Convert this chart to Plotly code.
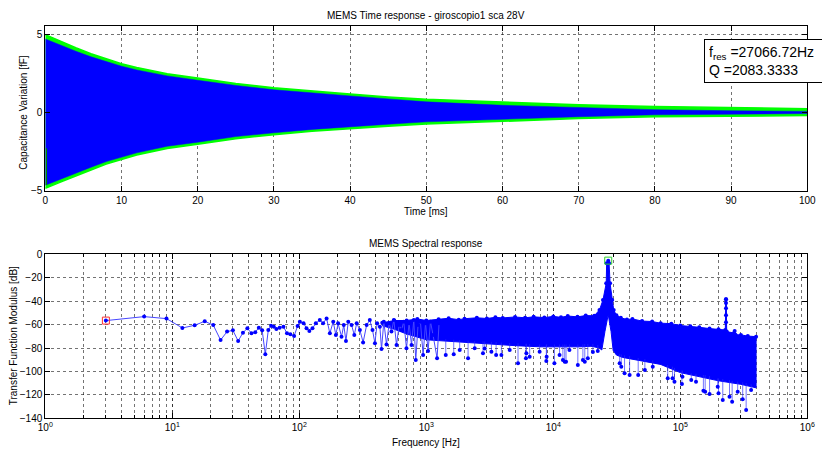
import plotly.graph_objects as go

# ---------------- Top: time response envelope ----------------
t_env = [0, 2, 4, 6, 8, 10, 12, 16, 20, 25, 30, 35, 40, 45, 50, 60, 70, 80, 90, 100]
green_up = [4.98, 4.55, 4.14, 3.76, 3.42, 3.12, 2.88, 2.48, 2.2, 1.86, 1.58, 1.36, 1.18, 0.99, 0.84, 0.67, 0.49, 0.38, 0.30, 0.24]
green_lo = [-4.85, -4.45, -4.05, -3.68, -3.3, -3.0, -2.72, -2.3, -2.03, -1.68, -1.42, -1.2, -1.02, -0.88, -0.74, -0.57, -0.39, -0.28, -0.22, -0.20]
blue_up = [4.7, 4.3, 3.92, 3.56, 3.24, 2.96, 2.72, 2.34, 2.06, 1.73, 1.45, 1.24, 1.06, 0.87, 0.68, 0.46, 0.30, 0.18, 0.11, 0.07]
blue_lo = [-4.65, -4.25, -3.87, -3.5, -3.14, -2.84, -2.58, -2.16, -1.9, -1.54, -1.3, -1.08, -0.9, -0.75, -0.6, -0.43, -0.27, -0.15, -0.10, -0.07]
start_t = [0.15, 0.15]
start_v = [-2.28, -4.63]

# ---------------- Bottom: spectrum ----------------
# sparse low/mid-frequency samples (Hz, dB)
lf_f = [3, 6, 9, 12, 15, 18, 21, 24, 27, 30, 33, 36, 39, 42, 45, 48, 51, 54, 57, 60, 63, 66, 70, 75,
        80, 85, 91, 97, 101, 108, 114, 120, 127, 135,
        145, 154, 164, 174, 185, 194, 202, 215, 224, 233, 243, 258, 271, 283, 300, 318, 339, 359,
        377, 394, 410, 431, 444, 463, 486, 510, 532, 555, 583, 611, 638, 665, 698, 732, 765, 797,
        826, 861, 899, 944, 986, 1033, 1079, 1130, 1216, 1260]
lf_db = [-56.6, -53.2, -54.9, -62.9, -60.6, -57.2, -60.4, -73.2, -66.0, -64.9, -74.0, -66.9, -63.2,
         -67.4, -66.6, -62.6, -64.9, -85.4, -64.6, -61.0, -61.8, -63.8, -62.6, -61.8,
         -67.4, -68.3, -69.7, -61.2, -57.5, -58.9, -63.2, -65.5, -63.2, -58.9,
         -56.1, -58.9, -54.7, -67.5, -57.5, -68.9, -58.9, -70.3, -60.4, -74.0, -57.5, -60.4, -68.9,
         -58.9, -64.6, -75.2, -60.4, -56.1, -64.6, -76.0, -58.9, -61.8, -80.8, -57.5, -76.9, -58.9,
         -66.0, -56.1, -77.4, -60.4, -64.6, -57.5, -80.3, -58.9, -77.4, -56.1,
         -90.2, -60.4, -57.5, -86.0, -58.9, -82.5, -57.5, -68.9, -88.8, -58.9]

# dense band: upper edge and lower edge of the solid region
band_up_f = [450, 560, 700, 850, 1000, 1250, 1500, 1800, 2000, 2500, 3000, 3500, 4000, 5000, 6000,
             7000, 8500, 10000, 11500, 13000, 15500, 18000, 21000, 23100,
             24600, 26100, 26300, 27070, 27500, 28000, 29100, 29900, 31400, 34000, 38000, 42000,
             50000, 60000, 70000, 85000, 100000, 120000, 141000, 170000, 200000, 226000, 229000,
             232000, 265000, 268000, 272000, 300000, 340000, 395000]
band_up_db = [-58.5, -56.5, -56.5, -55.2, -56.5, -55.5, -54.6, -55.8, -55, -54.2, -54.8, -53.8,
              -54.3, -53.5, -54.2, -53.4, -54, -53, -53.8, -52.7, -53.4, -52.3, -52.5, -47.5,
              -39, -24.8, -7.7, -5.4, -7.7, -24.8, -39, -47.5, -52, -54.2, -55.6, -55.2,
              -57, -57.4, -58.8, -59.2, -60.8, -61.4, -62.3, -63.4, -64, -64.6, -38.4,
              -66, -67.2, -65.5, -68.6, -68.8, -69.8, -70.3]
band_lo_f = [450, 560, 700, 1000, 1500, 2000, 3000, 5000, 8000, 12000, 16000, 20000, 23000, 24100,
             25500, 27070, 28500, 29600, 31400, 35000, 50000, 70000, 100000, 150000, 200000,
             300000, 395000]
band_lo_db = [-61, -64, -68, -73, -74.5, -75.5, -76.5, -78, -79, -79, -79, -78.5, -80, -81.7,
              -66, -51.5, -66, -82, -86, -88, -91, -94, -101, -105, -108, -111, -114]

# deep downward spikes (Hz, dB at tip, dB where it leaves the solid band)
dip_f = [1423, 1644, 1832, 2133, 2405, 2794, 2884, 3256, 3546, 3902, 4536, 5275, 6090, 6138, 6518,
         7803, 8810, 8860, 10200, 11200, 11900, 12300, 12600, 13400, 15600, 17100, 17700, 18700,
         20500, 22400,
         33300, 34300, 36400, 39900, 46600, 52600, 60700, 79600, 86900, 90000, 103000, 104000,
         122000, 133000, 152000, 157000, 170000, 197000, 200000, 216000, 244000, 256000, 283000,
         310000, 330000, 361000]
dip_db = [-86, -85.4, -81.7, -88.8, -80.3, -84.5, -80.5, -83.1, -86, -86, -81.7, -93.1, -88.8,
          -84.5, -87.4, -83.1, -91.1, -87.4, -93.1, -86, -90.2, -91.7, -91.7, -81.7, -94.5, -90.2,
          -91.7, -88.8, -83.5, -82.5,
          -93.1, -96, -101.6, -103, -103, -98.8, -96, -105.9, -105.9, -108.8, -110.7, -104.5,
          -107.3, -108.8, -116.4, -117.3, -119.3, -113, -118.7, -124.4, -121.6, -125.8, -117.3,
          -123.8, -132.9, -115.8]
dip_top = [-72.5, -73, -73.3, -73.7, -74, -74.3, -74.4, -74.8, -75, -75.3, -75.7, -76, -76.3,
           -76.4, -76.6, -77, -77, -77, -77, -77, -77, -77, -77, -77, -77, -76.8, -76.6, -76.5,
           -76.5, -77.5,
           -85, -85.5, -86.3, -87, -88.5, -89.5, -90.5, -94.5, -96, -97, -99, -99.5,
           -101.5, -102, -103, -103, -104, -106, -106, -106.5, -107.5, -108, -108.7,
           -109.3, -110, -111]

spike_f = [229000, 229000, 229000, 229000, 229000]
spike_db = [-38.4, -41.5, -46, -52, -58]

peak_f = [27070]
peak_db = [-5.4]
first_f = [3]
first_db = [-56.6]

# ---------------- figure ----------------
fig = go.Figure()

# top
fig.add_trace(go.Scatter(x=t_env + t_env[::-1], y=green_up + green_lo[::-1], fill="toself",
                         fillcolor="#00ff00", line=dict(color="#00ff00", width=1.5),
                         mode="lines", xaxis="x", yaxis="y", hoverinfo="skip"))
fig.add_trace(go.Scatter(x=t_env + t_env[::-1], y=blue_up + blue_lo[::-1], fill="toself",
                         fillcolor="#0000ff", line=dict(color="#0000ff", width=0.5),
                         mode="lines", xaxis="x", yaxis="y", hoverinfo="skip"))
fig.add_trace(go.Scatter(x=start_t, y=start_v, mode="lines",
                         line=dict(color="rgb(0,140,0)", width=1.2), xaxis="x", yaxis="y"))

# bottom
fig.add_trace(go.Scatter(x=band_up_f + band_lo_f[::-1], y=band_up_db + band_lo_db[::-1],
                         fill="toself", fillcolor="#0000ff", line=dict(color="#0000ff", width=1),
                         mode="lines", xaxis="x2", yaxis="y2", hoverinfo="skip"))
dx, dy = [], []
for f, d, tp in zip(dip_f, dip_db, dip_top):
    dx += [f, f, None]
    dy += [tp, d, None]
fig.add_trace(go.Scatter(x=dx, y=dy, mode="lines", line=dict(color="rgba(40,40,255,0.65)", width=1),
                         xaxis="x2", yaxis="y2", hoverinfo="skip"))
fig.add_trace(go.Scatter(x=dip_f, y=dip_db, mode="markers",
                         marker=dict(color="#0000ff", size=4), xaxis="x2", yaxis="y2"))
fig.add_trace(go.Scatter(x=band_up_f, y=band_up_db, mode="markers",
                         marker=dict(color="#0000ff", size=4), xaxis="x2", yaxis="y2"))
fig.add_trace(go.Scatter(x=spike_f, y=spike_db, mode="lines+markers",
                         line=dict(color="#0000ff", width=1.5),
                         marker=dict(color="#0000ff", size=4), xaxis="x2", yaxis="y2"))
fig.add_trace(go.Scatter(x=lf_f, y=lf_db, mode="lines+markers",
                         line=dict(color="rgb(70,70,255)", width=1),
                         marker=dict(color="#0000ff", size=4), xaxis="x2", yaxis="y2"))
fig.add_trace(go.Scatter(x=first_f, y=first_db, mode="markers",
                         marker=dict(symbol="square-open", color="#ff3030", size=7, line=dict(width=1)),
                         xaxis="x2", yaxis="y2"))
fig.add_trace(go.Scatter(x=peak_f, y=peak_db, mode="markers",
                         marker=dict(symbol="square-open", color="#30d030", size=7, line=dict(width=1)),
                         xaxis="x2", yaxis="y2"))

FONT = "Liberation Sans, Arial, sans-serif"
GRIDC = "rgba(0,0,0,0.55)"
grid = dict(showgrid=True, gridcolor=GRIDC, griddash="dot", gridwidth=1,
            zeroline=False, showline=True, linecolor="black", linewidth=1, mirror="ticks",
            ticks="inside", tickcolor="black", tickfont=dict(family=FONT, size=10, color="black"),
            automargin=False)

xd = [45.3 / 822, 807.3 / 822]

decades = [1, 10, 100, 1000, 10000, 100000, 1000000]
decade_text = ["10<sup>%d</sup>" % e for e in range(7)]

fig.update_layout(
    width=822, height=450, margin=dict(l=0, r=0, t=0, b=0, autoexpand=False),
    paper_bgcolor="white", plot_bgcolor="white", showlegend=False,
    font=dict(family=FONT, size=10, color="black"),
    xaxis=dict(domain=xd, range=[0, 100], tickvals=list(range(0, 101, 10)), ticklen=5,
               anchor="y", **grid),
    yaxis=dict(domain=[1 - 190.7 / 450, 1 - 26.3 / 450], range=[-5, 5.51], tickvals=[-5, 0, 5],
               ticklen=5, anchor="x", **grid),
    xaxis2=dict(domain=xd, type="log", range=[0, 6], tickvals=decades, ticktext=decade_text,
                ticklen=5, anchor="y2",
                minor=dict(dtick="D1", ticks="inside", ticklen=3, tickcolor="black",
                           showgrid=True, gridcolor=GRIDC, griddash="dot", gridwidth=1),
                **grid),
    yaxis2=dict(domain=[1 - 418.3 / 450, 1 - 254.3 / 450], range=[-140, 0],
                tickvals=list(range(-140, 1, 20)), ticklen=5, anchor="x2", **grid),
)

cx = (xd[0] + xd[1]) / 2
ann = [
    dict(text="MEMS Time response - giroscopio1 sca 28V", x=cx, y=1 - 15.5 / 450),
    dict(text="Time [ms]", x=cx, y=1 - 211.5 / 450),
    dict(text="Capacitance Variation [fF]", x=24 / 822, y=1 - 112.7 / 450, textangle=-90),
    dict(text="MEMS Spectral response", x=cx, y=1 - 243.5 / 450),
    dict(text="Frequency [Hz]", x=cx, y=1 - 442 / 450),
    dict(text="Transfer Function Modulus [dB]", x=13 / 822, y=1 - 336.3 / 450, textangle=-90),
]
for a in ann:
    fig.add_annotation(xref="paper", yref="paper", showarrow=False, xanchor="center",
                       yanchor="middle", font=dict(family=FONT, size=10, color="black"), **a)

fig.add_annotation(xref="paper", yref="paper", x=704.3 / 822, y=1 - 39 / 450, xanchor="left",
                   yanchor="top", showarrow=False, align="left", width=140,
                   text="f<sub>res</sub> =27066.72Hz<br>Q =2083.3333",
                   font=dict(family=FONT, size=14, color="black"),
                   bgcolor="white", bordercolor="black", borderwidth=1, borderpad=4)

fig.write_html("out.html",
               post_script="document.body.style.margin='0px';document.body.style.overflow='hidden';")
